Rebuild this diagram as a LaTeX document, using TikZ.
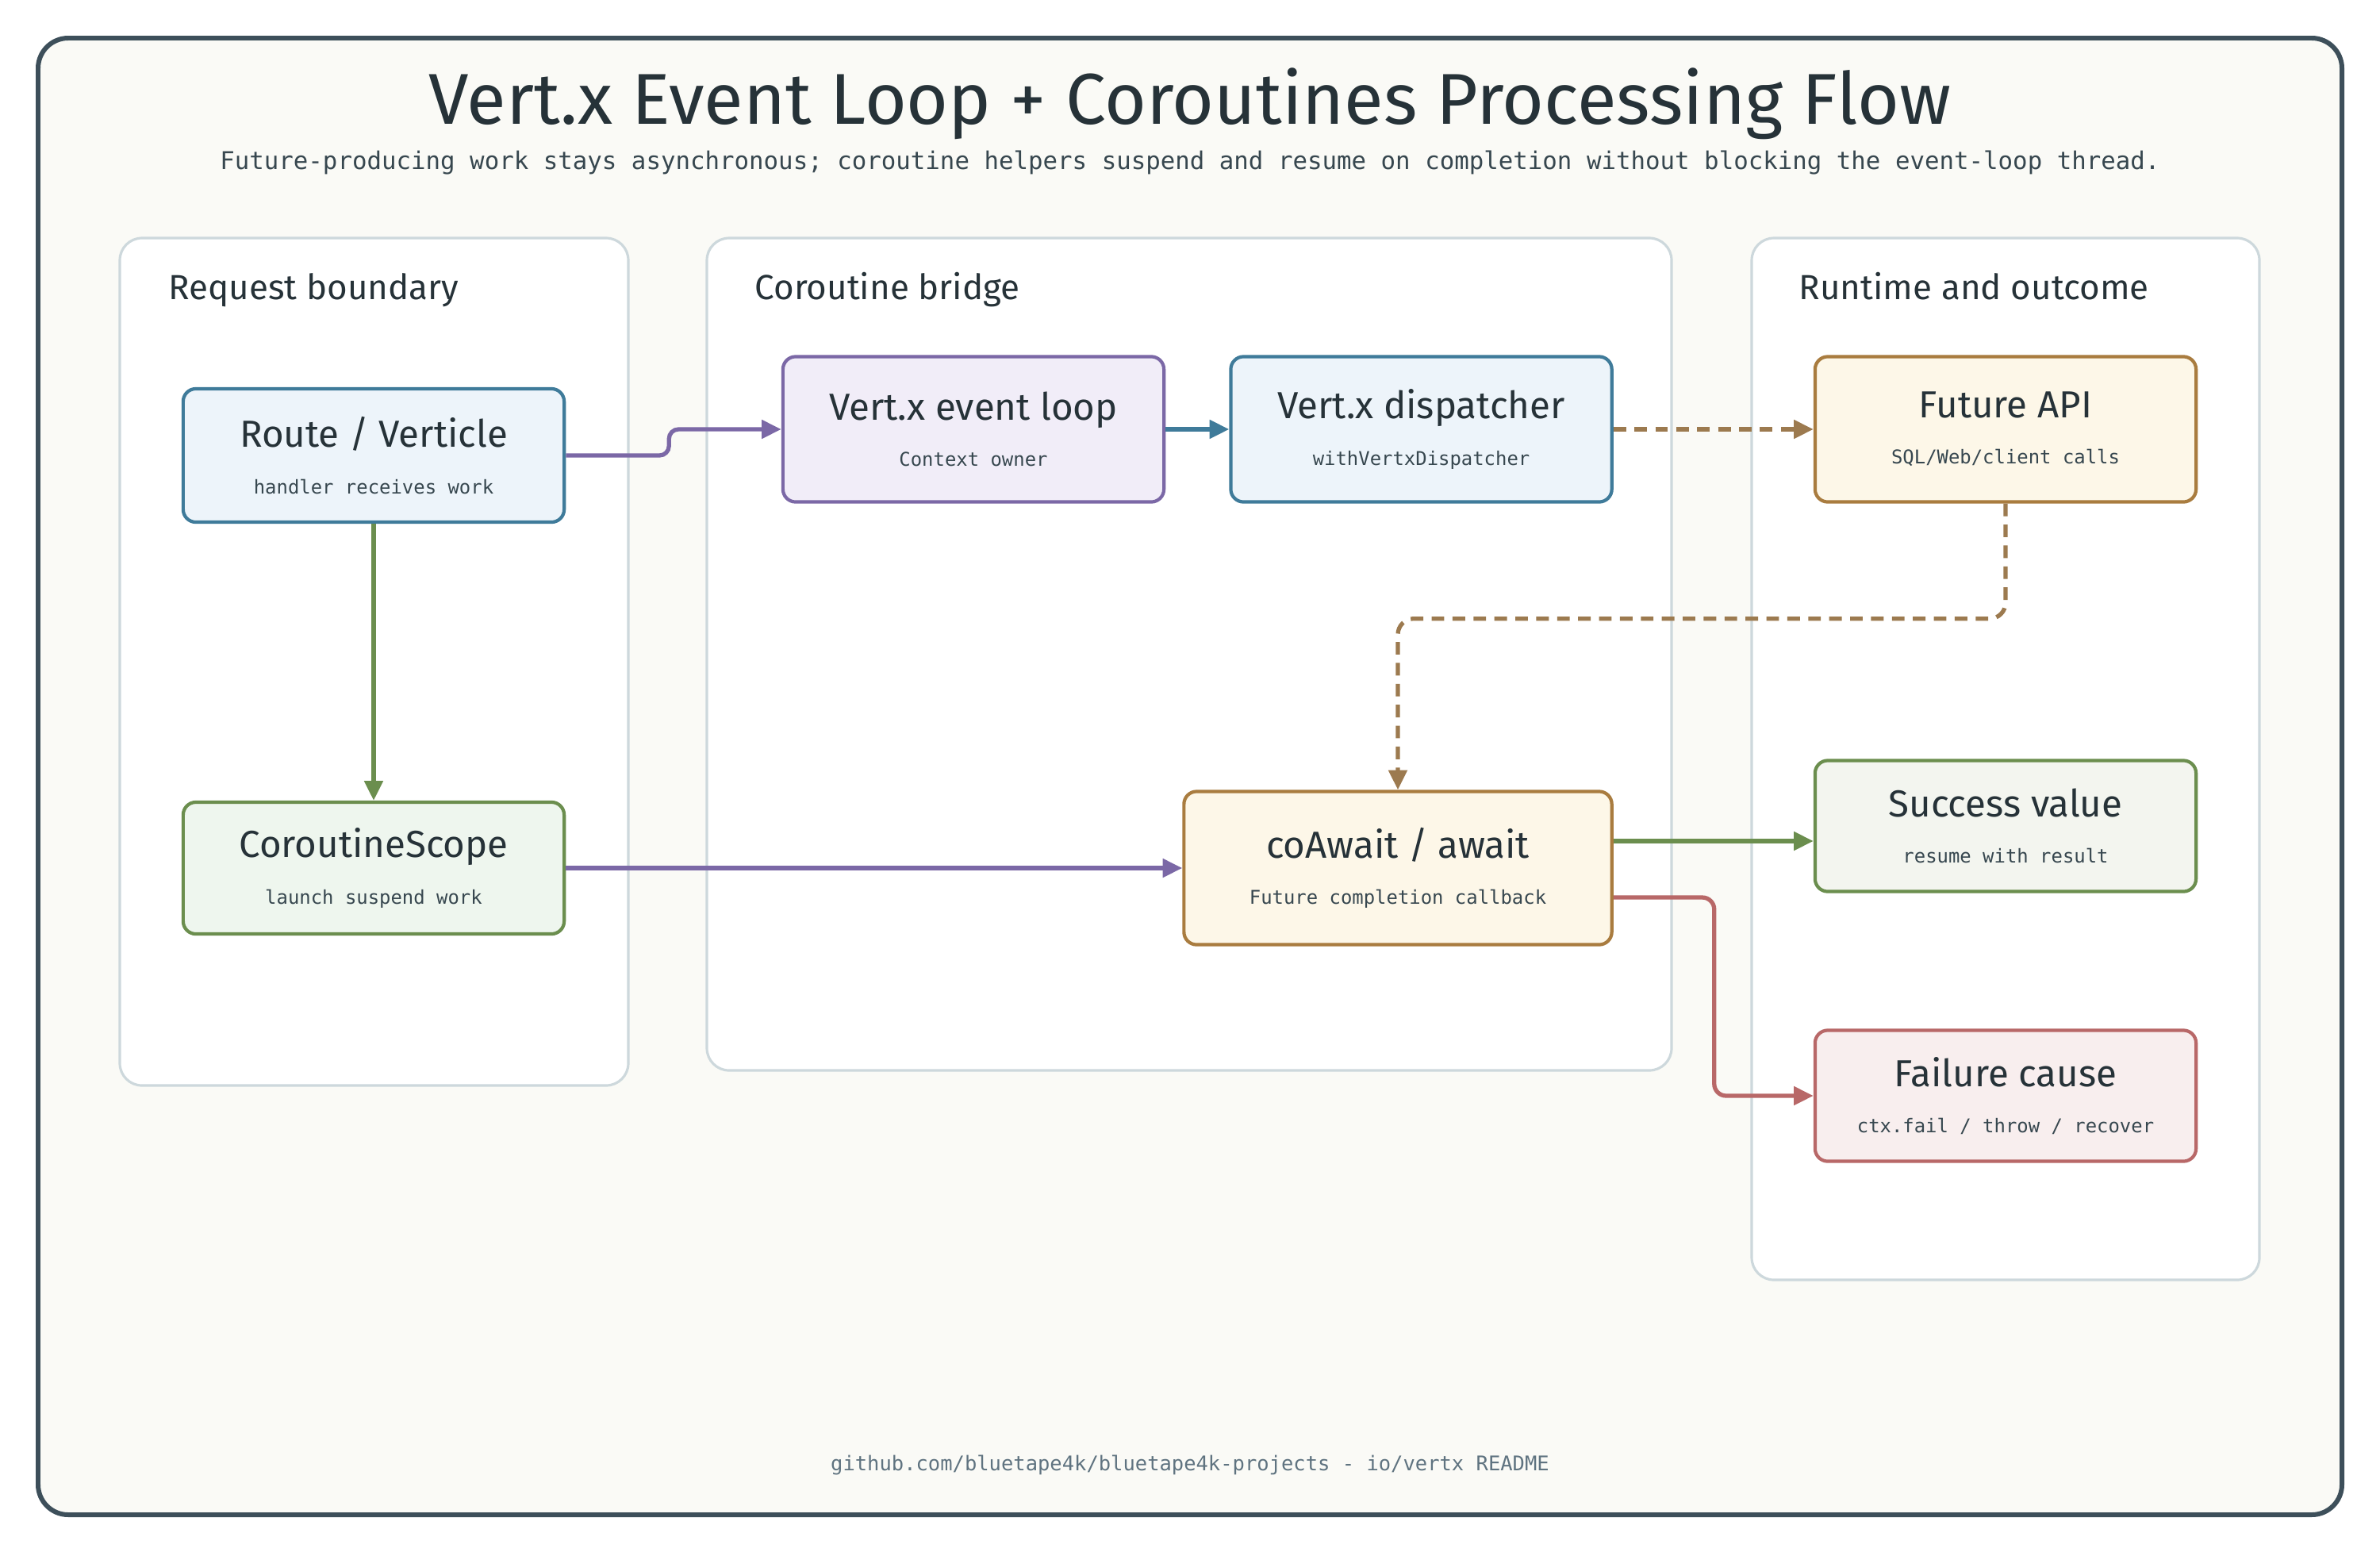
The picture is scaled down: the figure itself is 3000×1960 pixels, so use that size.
\documentclass[tikz,border=0pt]{standalone}
\usepackage{fontspec}
\setmainfont{Fira Sans}
\setmonofont{DejaVu Sans Mono}
\usepackage{tikz}
\usetikzlibrary{positioning,arrows.meta,calc}
\definecolor{ink}{HTML}{263238}
\definecolor{subink}{HTML}{37474F}
\definecolor{footink}{HTML}{5F7380}
\definecolor{frameline}{HTML}{3D4F5A}
\definecolor{paper}{HTML}{FAFAF6}
\definecolor{grpline}{HTML}{CDD8DC}
\definecolor{blueline}{HTML}{3F7B9A}
\definecolor{bluefill}{HTML}{EDF4FA}
\definecolor{purpleline}{HTML}{7B68A6}
\definecolor{purplefill}{HTML}{F1EDF8}
\definecolor{amberline}{HTML}{A97C3F}
\definecolor{amberfill}{HTML}{FDF7E8}
\definecolor{amberarrow}{HTML}{9C7A4F}
\definecolor{greenline}{HTML}{6B8E4E}
\definecolor{greenfill}{HTML}{EEF6EE}
\definecolor{okfill}{HTML}{F3F5EF}
\definecolor{redline}{HTML}{B86868}
\definecolor{redfill}{HTML}{F8EEEE}
\newcommand{\boxsub}[1]{{\ttfamily\fontsize{6.8}{8}\selectfont\color{subink}#1}}
\tikzstyle{grp}=[%
      draw=grpline, line width=0.9pt, fill=white, rounded corners=0.28cm
]
\tikzstyle{grplabel}=[%
      anchor=base west, text=ink, inner sep=0pt, font=\fontsize{12.5}{14}\selectfont
]
\tikzstyle{blk}=[%
      rectangle, rounded corners=0.16cm, line width=1.2pt, text=ink, align=center,
      minimum width=4.8cm, minimum height=1.83cm, inner sep=4pt, font=\fontsize{13.5}{16.6}\selectfont
]
\tikzstyle{bluebox}=[blk, draw=blueline, fill=bluefill]
\tikzstyle{purplebox}=[blk, draw=purpleline, fill=purplefill]
\tikzstyle{amberbox}=[blk, draw=amberline, fill=amberfill]
\tikzstyle{greenbox}=[blk, draw=greenline, fill=greenfill]
\tikzstyle{okbox}=[blk, draw=greenline, fill=okfill]
\tikzstyle{failbox}=[blk, draw=redline, fill=redfill]
\tikzstyle{flow}=[%
      -{Triangle[length=7pt,width=6.5pt]}, line width=1.5pt, rounded corners=0.15cm
]
\tikzstyle{async}=[flow, dash pattern=on 4.5pt off 3pt]

\begin{document}
\begin{tikzpicture}[x=0.01cm, y=-0.01cm]
    \useasboundingbox (0,0) rectangle (3000,1960);
    \draw[frameline, line width=1.7pt, fill=paper, rounded corners=0.38cm] (48,48) rectangle (2952,1909);

    \node[anchor=base, text=ink, font=\fontsize{25.8}{30}\selectfont] (title) at (1500,156)
        {Vert.x Event Loop + Coroutines Processing Flow};
    \node[anchor=base, text=subink, font=\ttfamily\fontsize{8.75}{11}\selectfont] (subtitle) at (1500,213)
        {Future-producing work stays asynchronous; coroutine helpers suspend and resume on completion without blocking the event-loop thread.};

    % groups
    \draw[grp] (151,300) rectangle (792,1368);
    \draw[grp] (891,300) rectangle (2107,1349);
    \draw[grp] (2208,300) rectangle (2848,1613);
    \node[grplabel] (reqlabel) at (212,377) {Request boundary};
    \node[grplabel] (bridgelabel) at (951,377) {Coroutine bridge};
    \node[grplabel] (runlabel) at (2267,377) {Runtime and outcome};

    % request boundary
    \node[bluebox, minimum height=1.68cm]  (route) at (471,574)   {Route / Verticle\\\boxsub{handler receives work}};
    \node[greenbox, minimum height=1.66cm] (scope) at (471,1094)  {CoroutineScope\\\boxsub{launch suspend work}};

    % coroutine bridge
    \node[purplebox] (loop) at (1227,541)               {Vert.x event loop\\\boxsub{Context owner}};
    \node[bluebox]   (disp) [right = 0.8cm of loop]     {Vert.x dispatcher\\\boxsub{withVertxDispatcher}};
    \node[amberbox, minimum width=5.39cm, minimum height=1.93cm] (await) at (1762,1094)
        {coAwait / await\\\boxsub{Future completion callback}};

    % runtime and outcome
    \node[amberbox] (future) at (2528,541)                         {Future API\\\boxsub{SQL/Web/client calls}};
    \node[okbox, minimum height=1.65cm]   (success) at (2528,1041) {Success value\\\boxsub{resume with result}};
    \node[failbox, minimum height=1.65cm] (failure) at (2528,1381) {Failure cause\\\boxsub{ctx.fail / throw / recover}};

    \coordinate (okout)  at ([yshift=0.34cm]await.east);
    \coordinate (errout) at ([yshift=-0.37cm]await.east);

    \draw[flow, purpleline, rounded corners=0.12cm] (route.east) -- ++(130,0) |- (loop.west);
    \draw[flow, blueline] (loop.east) -- (disp.west);
    \draw[async, amberarrow] (disp.east) -- (future.west);
    \draw[async, amberarrow, rounded corners=0.2cm] (future.south) -- ++(0,145) -| (await.north);
    \draw[flow, greenline] (route.south) -- (scope.north);
    \draw[flow, purpleline] (scope.east) -- (await.west);
    \draw[flow, greenline] (okout) -- (okout -| success.west);
    \draw[flow, redline] (errout) -- ++(127,0) |- (failure.west);

    \node[text=footink, font=\ttfamily\fontsize{7.25}{9}\selectfont] (footer) at (1500,1846)
        {github.com/bluetape4k/bluetape4k-projects - io/vertx README};
\end{tikzpicture}
\end{document}
